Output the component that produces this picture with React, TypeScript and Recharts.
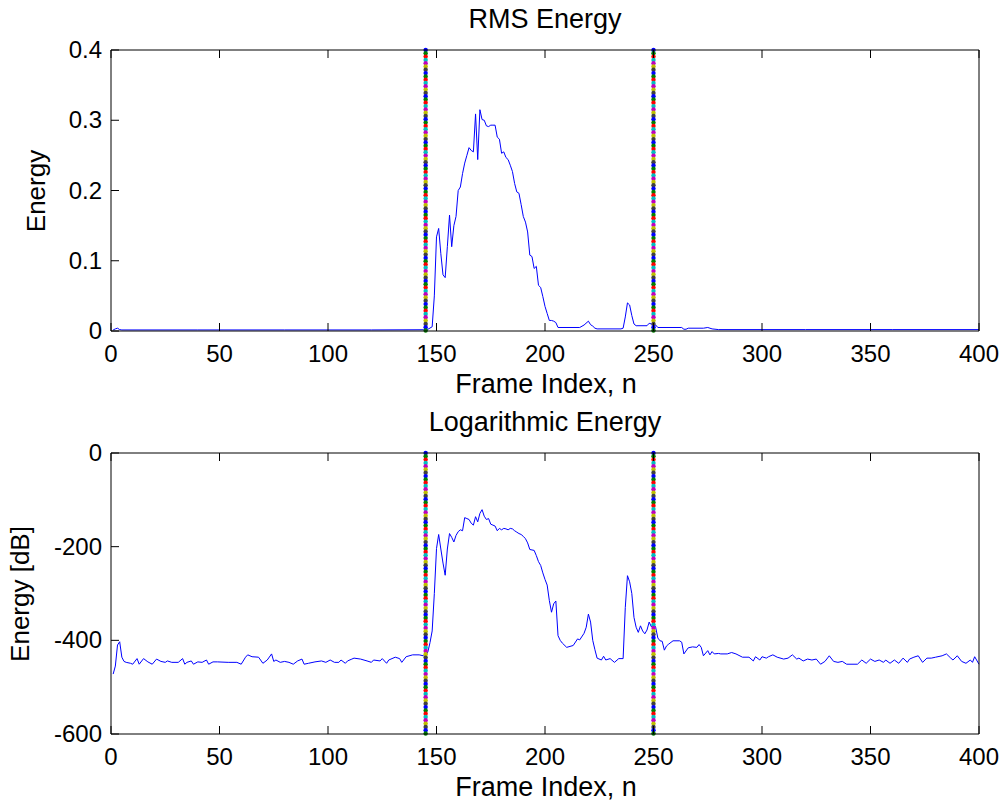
import { LineChart, Line, XAxis, YAxis, ReferenceLine } from "recharts"

const frameTicks = [0, 50, 100, 150, 200, 250, 300, 350, 400]
const rmsTicks = [0, 0.1, 0.2, 0.3, 0.4]
const dbTicks = [-600, -400, -200, 0]
const markerFrames = [145, 250]

// RMS energy
const rmsFrames = [
  1, 2, 3, 4, 5, 40, 80, 120, 144, 146, 148, 149, 150, 151, 152, 153, 154, 155, 156, 157,
  158, 159, 160, 161, 162, 163, 164, 165, 166, 167, 168, 169, 170, 171, 172, 173, 174, 175, 176, 177,
  178, 179, 180, 181, 182, 183, 184, 185, 186, 187, 188, 189, 190, 191, 192, 193, 194, 195, 196, 197,
  198, 199, 200, 201, 202, 203, 204, 205, 206, 216, 218, 220, 221, 222, 223, 224, 235, 236, 237, 238,
  239, 240, 241, 242, 247, 248, 249, 251, 252, 263, 264, 265, 266, 273, 275, 277, 280, 320, 360, 400
]
const rmsValues = [
  0.0015, 0.003, 0.004, 0.002, 0.0015, 0.0015, 0.0015, 0.0015, 0.0018, 0.0024, 0.006, 0.05, 0.134, 0.146, 0.11, 0.08, 0.076, 0.12, 0.165, 0.12,
  0.15, 0.163, 0.2, 0.205, 0.224, 0.239, 0.25, 0.261, 0.257, 0.255, 0.309, 0.244, 0.315, 0.301, 0.3, 0.292, 0.291, 0.293, 0.293, 0.293,
  0.276, 0.273, 0.253, 0.255, 0.247, 0.244, 0.236, 0.227, 0.21, 0.198, 0.196, 0.18, 0.163, 0.155, 0.141, 0.108, 0.106, 0.089, 0.092, 0.065,
  0.062, 0.049, 0.035, 0.025, 0.015, 0.015, 0.014, 0.012, 0.005, 0.005, 0.0085, 0.014, 0.009, 0.007, 0.004, 0.003, 0.003, 0.004, 0.02, 0.04,
  0.037, 0.022, 0.01, 0.0075, 0.0075, 0.011, 0.01, 0.0085, 0.005, 0.005, 0.0025, 0.0025, 0.004, 0.004, 0.005, 0.003, 0.002, 0.002, 0.002, 0.002
]

// log energy in dB
const dbFrames = [
  1, 2, 3, 4, 5, 6, 7, 9, 10, 12, 13, 15, 17, 19, 21, 23, 25, 26, 28, 31,
  33, 34, 35, 37, 38, 40, 42, 44, 45, 47, 49, 54, 58, 60, 62, 63, 65, 68, 70, 72,
  74, 75, 76, 78, 80, 82, 84, 86, 88, 89, 91, 94, 97, 99, 101, 103, 105, 106, 108, 109,
  111, 112, 115, 118, 120, 121, 124, 125, 127, 128, 131, 133, 134, 136, 139, 142, 144, 145, 146, 147,
  148, 149, 150, 151, 152, 153, 154, 155, 156, 157, 158, 159, 160, 161, 162, 163, 164, 165, 166, 167,
  168, 169, 170, 171, 172, 173, 174, 175, 176, 177, 178, 179, 180, 181, 182, 183, 184, 185, 186, 187,
  188, 189, 190, 191, 192, 193, 194, 195, 196, 197, 198, 199, 200, 201, 202, 203, 204, 205, 206, 207,
  208, 210, 213, 215, 216, 218, 219, 220, 221, 222, 223, 224, 226, 227, 228, 230, 232, 234, 236, 237,
  238, 239, 240, 241, 242, 243, 244, 245, 246, 247, 248, 249, 250, 251, 252, 253, 254, 255, 256, 257,
  259, 262, 263, 264, 266, 268, 270, 271, 272, 273, 275, 276, 277, 278, 280, 281, 284, 286, 288, 291,
  294, 296, 297, 299, 300, 302, 303, 305, 307, 310, 312, 314, 316, 317, 319, 321, 323, 325, 327, 329,
  331, 333, 335, 337, 339, 344, 346, 348, 350, 352, 354, 356, 357, 359, 361, 363, 365, 367, 368, 370,
  372, 374, 376, 378, 380, 383, 385, 387, 388, 390, 392, 394, 396, 397, 398, 400
]
const dbValues = [
  -472, -455, -410, -403, -436, -445, -447, -449, -451, -439, -451, -439, -446, -451, -440, -445, -447, -444, -447, -447,
  -439, -451, -447, -444, -451, -446, -447, -442, -451, -446, -446, -447, -447, -451, -436, -431, -435, -436, -449, -442,
  -429, -445, -442, -447, -445, -447, -451, -444, -440, -451, -449, -446, -444, -447, -442, -447, -447, -442, -449, -444,
  -440, -438, -440, -444, -447, -442, -444, -439, -449, -442, -436, -439, -447, -435, -431, -431, -433, -433, -425, -405,
  -380, -300, -204, -174, -205, -235, -261, -205, -172, -180, -190, -176, -168, -164, -166, -138, -140, -142, -150, -154,
  -136, -147, -129, -121, -135, -142, -140, -152, -154, -156, -166, -161, -164, -161, -162, -164, -161, -162, -166, -169,
  -172, -174, -178, -183, -192, -206, -207, -208, -219, -232, -240, -256, -270, -282, -315, -340, -322, -316, -390, -400,
  -406, -415, -411, -397, -399, -385, -372, -344, -361, -400, -420, -438, -442, -434, -442, -439, -447, -439, -439, -330,
  -262, -275, -300, -351, -372, -383, -369, -380, -386, -378, -361, -371, -364, -372, -395, -401, -402, -421, -412, -408,
  -401, -401, -404, -429, -416, -414, -415, -409, -415, -433, -422, -431, -424, -429, -428, -429, -429, -426, -429, -436,
  -436, -444, -435, -442, -435, -438, -435, -431, -436, -440, -438, -431, -440, -438, -444, -440, -442, -440, -451, -445,
  -433, -445, -447, -445, -451, -451, -442, -449, -440, -445, -442, -447, -442, -449, -442, -449, -438, -447, -440, -436,
  -433, -447, -438, -438, -436, -433, -429, -438, -442, -433, -445, -449, -442, -447, -435, -451
]

const rmsData = rmsFrames.map((frame, i) => ({ frame, value: rmsValues[i] }))
const dbData = dbFrames.map((frame, i) => ({ frame, value: dbValues[i] }))

const FONT = '"Liberation Sans", Arial, sans-serif'
const dotColors = ["#0000ff", "#008000", "#ff0000", "#00bfbf", "#bf00bf", "#bfbf00", "#404040"]

const BottomTick = (p: any) => (
  <g>
    <line x1={p.x} y1={p.y} x2={p.x} y2={p.y - 8} stroke="#000" />
    <text x={p.x} y={p.y + 31} textAnchor="middle" fontSize={24} fontFamily={FONT} fill="#000">
      {p.payload.value}
    </text>
  </g>
)
const TopTick = (p: any) => <line x1={p.x} y1={p.y} x2={p.x} y2={p.y + 8} stroke="#000" />
const LeftTick = (p: any) => (
  <g>
    <line x1={p.x} y1={p.y} x2={p.x + 8} y2={p.y} stroke="#000" />
    <text x={p.x - 9} y={p.y + 8} textAnchor="end" fontSize={24} fontFamily={FONT} fill="#000">
      {p.payload.value}
    </text>
  </g>
)
const RightTick = (p: any) => <line x1={p.x} y1={p.y} x2={p.x - 8} y2={p.y} stroke="#000" />

// multi-coloured dotted marker line
const DotLine = (p: any) => {
  const top = Math.min(p.y1, p.y2)
  const bottom = Math.max(p.y1, p.y2)
  const n = Math.floor((bottom - top) / 3.3)
  const dots = []
  for (let i = 0; i <= n; i++) {
    dots.push(
      <circle key={i} cx={p.x1} cy={top + i * 3.3} r={2.2} fill={dotColors[i % dotColors.length]} />
    )
  }
  return <g>{dots}</g>
}

function Panel(props: {
  data: { frame: number; value: number }[]
  yDomain: number[]
  yTicks: number[]
  title: string
  yLabel: string
  yLabelX: number
}) {
  const { data, yDomain, yTicks, title, yLabel, yLabelX } = props
  return (
    <LineChart width={1005} height={400} data={data} margin={{ top: 49, right: 25, bottom: 68, left: 0 }}>
      <XAxis xAxisId="b" dataKey="frame" type="number" domain={[0, 400]} ticks={frameTicks} interval={0}
        height={1} tickSize={0} tickMargin={0} tickLine={false} axisLine={{ stroke: "#000" }} tick={BottomTick} />
      <XAxis xAxisId="t" orientation="top" dataKey="frame" type="number" domain={[0, 400]} ticks={frameTicks} interval={0}
        height={1} tickSize={0} tickMargin={0} tickLine={false} axisLine={{ stroke: "#000" }} tick={TopTick} />
      <YAxis yAxisId="l" type="number" domain={yDomain} ticks={yTicks} interval={0} width={111}
        tickSize={0} tickMargin={0} tickLine={false} axisLine={{ stroke: "#000" }} tick={LeftTick} />
      <YAxis yAxisId="r" orientation="right" type="number" domain={yDomain} ticks={yTicks} interval={0} width={1}
        tickSize={0} tickMargin={0} tickLine={false} axisLine={{ stroke: "#000" }} tick={RightTick} />
      <Line xAxisId="b" yAxisId="l" dataKey="value" stroke="#0000ff" strokeWidth={1} dot={false}
        isAnimationActive={false} />
      {markerFrames.map((f) => (
        <ReferenceLine key={f} xAxisId="b" yAxisId="l" x={f} shape={DotLine} />
      ))}
      <text x={545} y={28} textAnchor="middle" fontSize={27} fontFamily={FONT} fill="#000">{title}</text>
      <text x={546} y={393} textAnchor="middle" fontSize={27} fontFamily={FONT} fill="#000">Frame Index, n</text>
      <text x={yLabelX} y={191} textAnchor="middle" fontSize={26} fontFamily={FONT} fill="#000"
        transform={`rotate(-90, ${yLabelX}, 191)`}>{yLabel}</text>
    </LineChart>
  )
}

export default function App() {
  return (
    <div style={{ position: "absolute", left: 0, top: 0, width: 1005, height: 803, background: "#fff" }}>
      <div style={{ position: "absolute", left: 0, top: 0 }}>
        <Panel data={rmsData} yDomain={[0, 0.4]} yTicks={rmsTicks} title="RMS Energy" yLabel="Energy" yLabelX={45} />
      </div>
      <div style={{ position: "absolute", left: 0, top: 403 }}>
        <Panel data={dbData} yDomain={[-600, 0]} yTicks={dbTicks} title="Logarithmic Energy" yLabel="Energy [dB]" yLabelX={29} />
      </div>
    </div>
  )
}
